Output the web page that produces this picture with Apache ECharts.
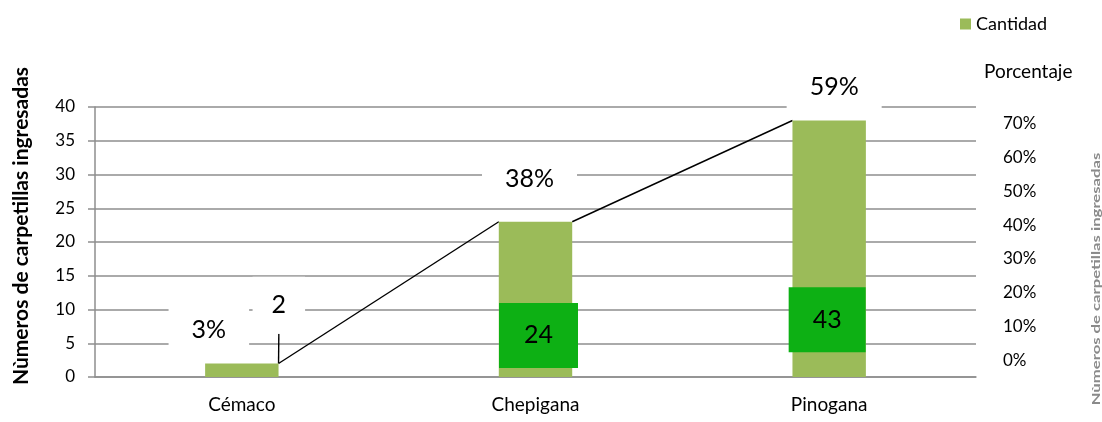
<!DOCTYPE html>
<html>
<head>
<meta charset="utf-8">
<script src="https://cdn.jsdelivr.net/npm/echarts@6/dist/echarts.min.js"></script>
<style>
html,body{margin:0;padding:0;background:#fff;}
#chart{width:1102px;height:422px;}
</style>
</head>
<body>
<div id="chart"></div>
<script>
// ---- data ----
var categories = ['Cémaco', 'Chepigana', 'Pinogana'];
var cantidad = [2, 23, 38];            // bar heights
var cantidadLabels = [2, 24, 43];      // data-label texts shown on the bars
var porcentaje = [3, 38, 59];          // percentage labels (%)
var leftTicks = [0, 5, 10, 15, 20, 25, 30, 35, 40];
var rightTicks = [0, 10, 20, 30, 40, 50, 60, 70];

var FONT = 'Lato';
var BAR_FRACTION = 0.25;
var GRID = '#8e8e8e';

// series lines (corner to corner between consecutive bar tops)
var seriesLineData = [];
for (var i = 0; i < cantidad.length - 1; i++) {
  seriesLineData.push([i, cantidad[i], cantidad[i + 1]]);
}

// per-item label placement
var barLabelCfg = [
  {shift: [37, -65], backgroundColor: '#fff', padding: [16, 19]},
  {shift: [3, 36], backgroundColor: '#0db014', padding: [20, 25]},
  {shift: [-2, 71], backgroundColor: '#0db014', padding: [20, 24]}
];
var pctOffsets = [[-33, -20], [-6, -53], [5, -74]];

var barData = cantidad.map(function (v, idx) {
  var c = barLabelCfg[idx];
  return {
    value: v,
    label: {backgroundColor: c.backgroundColor, padding: c.padding},
    labelLine: {show: idx === 0}
  };
});
var pctData = porcentaje.map(function (v, idx) {
  return {value: v, label: {offset: pctOffsets[idx]}};
});

var chart = echarts.init(document.getElementById('chart'));
chart.setOption({
  animation: false,
  textStyle: {fontFamily: FONT},
  grid: {left: 95, right: 126, top: 107, bottom: 45},
  legend: {
    data: ['Cantidad'],
    left: 955, top: 10,
    itemWidth: 11, itemHeight: 11, itemGap: 6,
    icon: 'rect',
    textStyle: {fontFamily: FONT, fontSize: 18, color: '#000'}
  },
  xAxis: {
    type: 'category',
    data: categories,
    axisLine: {lineStyle: {color: GRID, width: 1.5}},
    axisTick: {show: false},
    axisLabel: {fontFamily: FONT, fontSize: 19, color: '#000', margin: 18}
  },
  yAxis: [
    {
      type: 'value',
      min: leftTicks[0], max: leftTicks[leftTicks.length - 1], interval: leftTicks[1] - leftTicks[0],
      name: 'Nùmeros de carpetillas ingresadas',
      nameLocation: 'middle',
      nameGap: 63,
      nameTextStyle: {fontFamily: FONT, fontWeight: 'bold', fontSize: 21, color: '#000', padding: [0, 0, 0, 32]},
      axisLine: {show: true, lineStyle: {color: GRID, width: 1.5}},
      axisTick: {show: true, inside: false, length: 7, lineStyle: {color: GRID, width: 1.5}},
      axisLabel: {fontFamily: FONT, fontSize: 17, color: '#000', margin: 20},
      splitLine: {show: true, lineStyle: {color: GRID, width: 1.5}}
    },
    {
      type: 'value',
      position: 'right',
      min: -5, max: 75, interval: 5,
      name: 'Porcentaje',
      nameLocation: 'end',
      nameGap: 26,
      nameTextStyle: {fontFamily: FONT, fontSize: 19, color: '#000', align: 'left', padding: [0, 0, 0, 8]},
      axisLine: {show: false},
      axisTick: {show: false},
      splitLine: {show: false},
      axisLabel: {
        fontFamily: FONT, fontSize: 17, color: '#000', margin: 27,
        formatter: function (v) {
          return rightTicks.indexOf(v) >= 0 ? v + '%' : '';
        }
      }
    }
  ],
  series: [
    {
      name: 'Cantidad',
      type: 'bar',
      barWidth: (BAR_FRACTION * 100) + '%',
      itemStyle: {color: '#9bbb59'},
      z: 3,
      data: barData,
      label: {
        show: true,
        position: 'inside',
        fontFamily: FONT, fontSize: 25, color: '#000',
        formatter: function (p) { return String(cantidadLabels[p.dataIndex]); }
      },
      labelLayout: function (p) {
        var s = barLabelCfg[p.dataIndex].shift;
        return {dx: s[0], dy: s[1]};
      },
      labelLine: {show: false, lineStyle: {color: '#000', width: 1.4}}
    },
    {
      name: 'SeriesLines',
      type: 'custom',
      z: 2,
      silent: true,
      data: seriesLineData,
      encode: {x: 0, y: 1},
      renderItem: function (params, api) {
        var idx = api.value(0);
        var band = api.size([1, 0])[0];
        var half = band * BAR_FRACTION / 2;
        var p0 = api.coord([idx, api.value(1)]);
        var p1 = api.coord([idx + 1, api.value(2)]);
        return {
          type: 'line',
          shape: {x1: p0[0] + half, y1: p0[1], x2: p1[0] - half, y2: p1[1]},
          style: {stroke: '#000', lineWidth: 1.4}
        };
      }
    },
    {
      name: 'Porcentaje',
      type: 'line',
      yAxisIndex: 1,
      data: pctData,
      symbol: 'circle',
      symbolSize: 1,
      showSymbol: true,
      itemStyle: {color: 'rgba(0,0,0,0)'},
      lineStyle: {width: 0, opacity: 0},
      z: 5,
      label: {
        show: true,
        position: 'inside',
        fontFamily: FONT, fontSize: 25, color: '#000',
        backgroundColor: '#fff',
        padding: [16, 23],
        formatter: '{c}%'
      }
    }
  ],
  graphic: [
    {
      type: 'text',
      x: 1096, y: 279,
      rotation: Math.PI / 2,
      scaleX: 1.39,
      style: {
        text: 'Nùmeros de carpetillas ingresadas',
        fontFamily: FONT, fontSize: 12, fontWeight: 'bold',
        fill: '#8a8a8a', align: 'center', verticalAlign: 'middle'
      }
    }
  ]
});
</script>
</body>
</html>
